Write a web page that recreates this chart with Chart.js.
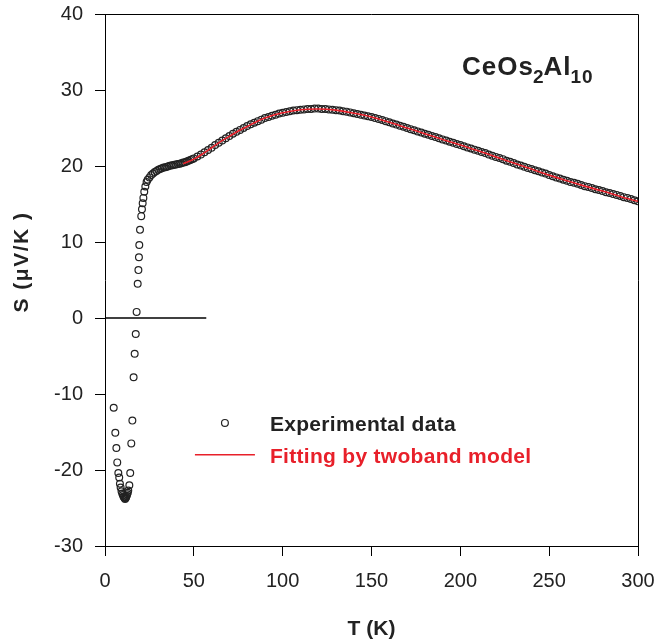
<!DOCTYPE html>
<html>
<head>
<meta charset="utf-8">
<title>CeOs2Al10 thermopower</title>
<script src="https://cdn.jsdelivr.net/npm/chart.js@4.4.1/dist/chart.umd.min.js"></script>
<style>
  html, body { margin: 0; padding: 0; background: #fff; }
  #wrap { width: 660px; height: 642px; }
</style>
</head>
<body>
<div id="wrap"><canvas id="chartS" width="660" height="642"></canvas></div>
<script>
/* ---- data ---- */

// low temperature points (K, uV/K)
const lowT = [4.9, 5.8, 6.4, 6.9, 7.5, 8.0, 8.4, 8.8, 9.3, 9.7, 10.1, 10.4, 10.7, 11.0, 11.3,
              11.6, 11.9, 12.2, 12.5, 12.8, 13.1, 13.7, 14.2, 14.8, 15.4, 16.1, 16.7, 17.3,
              17.8, 18.4, 18.8, 19.1, 19.3, 19.7, 20.4, 20.8, 21.2, 21.6, 22.1, 22.7, 23.4];
const lowS = [-11.8, -15.1, -17.1, -19.0, -20.4, -21.0, -21.8, -22.3, -22.8, -23.1, -23.3, -23.5,
              -23.6, -23.7, -23.8, -23.7, -23.6, -23.4, -23.2, -23.0, -22.7, -22.0, -20.4, -16.5,
              -13.5, -7.8, -4.7, -2.1, 0.8, 4.5, 6.3, 8.0, 9.6, 11.6, 13.4, 14.3, 15.1, 15.8,
              16.6, 17.3, 17.9];

// main curve, 24 K .. 300 K (1 K steps up to 50 K, then 2 K)
const curveT = [
   24,  25,  26,  27,  28,  29,  30,  31,  32,  33,
   34,  35,  36,  37,  38,  39,  40,  41,  42,  43,
   44,  45,  46,  47,  48,  49,  50,
   52,  54,  56,  58,  60,  62,
   64,  66,  68,  70,  72,  74,  76,  78,  80,  82,
   84,  86,  88,  90,  92,  94,  96,  98, 100, 102,
  104, 106, 108, 110, 112, 114, 116, 118, 120, 122,
  124, 126, 128, 130, 132, 134, 136, 138, 140, 142,
  144, 146, 148, 150, 152, 154, 156, 158, 160, 162,
  164, 166, 168, 170, 172, 174, 176, 178, 180, 182,
  184, 186, 188, 190, 192, 194, 196, 198, 200, 202,
  204, 206, 208, 210, 212, 214, 216, 218, 220, 222,
  224, 226, 228, 230, 232, 234, 236, 238, 240, 242,
  244, 246, 248, 250, 252, 254, 256, 258, 260, 262,
  264, 266, 268, 270, 272, 274, 276, 278, 280, 282,
  284, 286, 288, 290, 292, 294, 296, 298, 300
];
const curveS = [
  18.2, 18.5, 18.8, 19.0, 19.2, 19.35, 19.5, 19.6, 19.7, 19.8,
  19.85, 19.9, 20.0, 20.05, 20.1, 20.15, 20.2, 20.25, 20.3, 20.35,
  20.45, 20.5, 20.6, 20.7, 20.8, 20.9, 21.0,
  21.25, 21.5, 21.8, 22.1, 22.4, 22.75,
  23.05, 23.35, 23.65, 23.95, 24.25, 24.5, 24.75, 25.0, 25.25, 25.5,
  25.7, 25.9, 26.1, 26.3, 26.45, 26.6, 26.75, 26.9, 27.0, 27.1,
  27.2, 27.3, 27.35, 27.4, 27.45, 27.5, 27.5, 27.55, 27.55, 27.5,
  27.5, 27.45, 27.4, 27.35, 27.3, 27.2, 27.15, 27.05, 26.95, 26.85,
  26.75, 26.65, 26.55, 26.45, 26.3, 26.2, 26.05, 25.9, 25.75, 25.6,
  25.45, 25.3, 25.15, 25.0, 24.85, 24.7, 24.55, 24.4, 24.25, 24.1,
  23.95, 23.8, 23.65, 23.5, 23.35, 23.2, 23.05, 22.9, 22.75, 22.6,
  22.45, 22.3, 22.15, 22.0, 21.85, 21.7, 21.5, 21.35, 21.2, 21.05,
  20.9, 20.7, 20.55, 20.4, 20.2, 20.05, 19.9, 19.75, 19.6, 19.45,
  19.3, 19.15, 19.0, 18.8, 18.65, 18.5, 18.35, 18.2, 18.05, 17.9,
  17.8, 17.65, 17.5, 17.35, 17.25, 17.1, 16.95, 16.85, 16.7, 16.55,
  16.45, 16.3, 16.2, 16.05, 15.9, 15.8, 15.65, 15.5, 15.35
];

// two band fit
const fitT = [44, 50, 55, 60, 65, 70, 75, 80, 85, 90, 95, 100, 110, 120, 130, 140, 150,
              160, 170, 180, 190, 200, 210, 220, 230, 240, 250, 260, 270, 280, 290, 300];
const fitS = [20.3, 20.9, 21.6, 22.4, 23.2, 23.9, 24.6, 25.2, 25.8, 26.3, 26.7, 27.0, 27.4,
              27.5, 27.35, 26.95, 26.45, 25.75, 25.0, 24.25, 23.5, 22.75, 22.0, 21.2, 20.4,
              19.6, 18.8, 18.05, 17.35, 16.7, 16.0, 15.35];

// short zero reference line
const zeroT = [0, 57];
const zeroS = [0, 0];

const xTicks = [0, 50, 100, 150, 200, 250, 300];
const yTicks = [-30, -20, -10, 0, 10, 20, 30, 40];

const FONT = "'Liberation Sans', Arial, Helvetica, sans-serif";
const RED = '#e8202a';
const INK = '#222';

function pairs(xs, ys) {
  return xs.map(function (x, i) { return { x: x, y: ys[i] }; });
}

/* ---- extra drawing: frame, legend, compound label, y title ---- */
const decor = {
  id: 'decor',
  afterDraw: function (chart) {
    const ctx = chart.ctx;
    const a = chart.chartArea;
    const xs = chart.scales.x, ys = chart.scales.y;
    ctx.save();

    // top and right edges of the box
    ctx.strokeStyle = '#000';
    ctx.lineWidth = 1;
    ctx.beginPath();
    ctx.moveTo(a.left, a.top + 0.5);
    ctx.lineTo(a.right + 0.5, a.top + 0.5);
    ctx.lineTo(a.right + 0.5, a.bottom);
    ctx.stroke();

    // legend
    const lx = xs.getPixelForValue(67.5);
    const ly1 = ys.getPixelForValue(-13.8);
    const ly2 = ys.getPixelForValue(-18.0);
    ctx.strokeStyle = INK;
    ctx.lineWidth = 1.2;
    ctx.beginPath();
    ctx.arc(lx, ly1, 3.4, 0, Math.PI * 2);
    ctx.stroke();
    ctx.strokeStyle = RED;
    ctx.lineWidth = 1.5;
    ctx.beginPath();
    ctx.moveTo(lx - 30, ly2);
    ctx.lineTo(lx + 30, ly2);
    ctx.stroke();
    ctx.textBaseline = 'middle';
    ctx.textAlign = 'left';
    ctx.font = 'bold 21px ' + FONT;
    ctx.letterSpacing = '0.3px';
    ctx.fillStyle = INK;
    ctx.fillText('Experimental data', lx + 45, ly1 + 2);
    ctx.fillStyle = RED;
    ctx.fillText('Fitting by twoband model', lx + 45, ly2 + 2);

    // compound name with subscripts
    ctx.fillStyle = INK;
    ctx.textBaseline = 'alphabetic';
    ctx.letterSpacing = '1px';
    let cx = 462;
    const base = 75;
    const parts = [['CeOs', 26, 0], ['2', 19, 8], ['Al', 26, 0], ['10', 19, 8]];
    parts.forEach(function (p) {
      ctx.font = 'bold ' + p[1] + 'px ' + FONT;
      ctx.fillText(p[0], cx, base + p[2]);
      cx += ctx.measureText(p[0]).width - 1;
    });

    // y axis title
    ctx.letterSpacing = '1.5px';
    ctx.font = 'bold 21px ' + FONT;
    ctx.textAlign = 'center';
    ctx.textBaseline = 'middle';
    ctx.translate(22, 262);
    ctx.rotate(-Math.PI / 2);
    ctx.fillText('S (\u03bcV/K )', 0, 0);
    ctx.restore();
  }
};

const tickFont = { family: FONT, size: 20 };

new Chart(document.getElementById('chartS'), {
  type: 'scatter',
  data: {
    datasets: [
      {
        label: 'Fitting by twoband model',
        data: pairs(fitT, fitS),
        showLine: true,
        borderColor: RED,
        borderWidth: 1.6,
        pointRadius: 0,
        tension: 0.35,
        order: 0
      },
      {
        label: 'Experimental data',
        data: pairs(lowT, lowS).concat(pairs(curveT, curveS)),
        pointStyle: 'circle',
        pointRadius: 3.4,
        borderWidth: 1.2,
        borderColor: INK,
        backgroundColor: 'rgba(0,0,0,0)',
        order: 1
      },
      {
        label: 'zero',
        data: pairs(zeroT, zeroS),
        showLine: true,
        borderColor: '#000',
        borderWidth: 1.3,
        pointRadius: 0,
        order: 2
      }
    ]
  },
  options: {
    responsive: false,
    animation: false,
    layout: { padding: { top: 14, right: 22, left: 0, bottom: 0 } },
    plugins: {
      legend: { display: false },
      tooltip: { enabled: false }
    },
    scales: {
      x: {
        type: 'linear',
        min: 0, max: 300,
        afterFit: function (s) { s.height = 96; s.paddingLeft = 0; s.paddingRight = 0; },
        afterBuildTicks: function (s) { s.ticks = xTicks.map(v => ({ value: v })); },
        ticks: { font: tickFont, color: INK, padding: 13 },
        grid: { drawOnChartArea: false, drawTicks: true, tickLength: 10, color: '#000' },
        border: { display: true, color: '#000', width: 1 },
        title: {
          display: true,
          text: 'T (K)',
          font: { family: FONT, size: 21, weight: 'bold' },
          color: INK,
          padding: { top: 0, bottom: 0 }
        }
      },
      y: {
        type: 'linear',
        min: -30, max: 40,
        afterFit: function (s) { s.width = 105; s.paddingTop = 0; s.paddingBottom = 0; },
        afterBuildTicks: function (s) { s.ticks = yTicks.map(v => ({ value: v })); },
        ticks: { font: tickFont, color: INK, padding: 12 },
        grid: { drawOnChartArea: false, drawTicks: true, tickLength: 10, color: '#000' },
        border: { display: true, color: '#000', width: 1 }
      }
    }
  },
  plugins: [decor]
});
</script>
</body>
</html>
